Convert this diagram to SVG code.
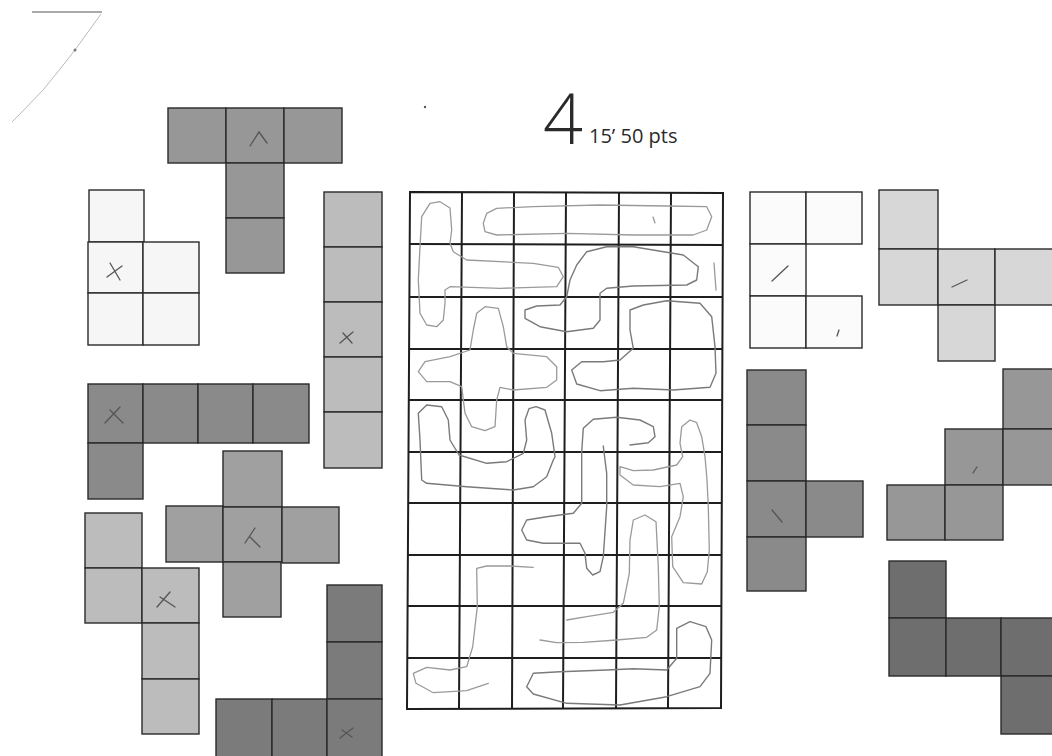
<svg xmlns="http://www.w3.org/2000/svg" width="1052" height="756" viewBox="0 0 1052 756">
<style>
.c{stroke:#2a2a2a;stroke-width:1.4}
.w{fill:#f6f6f6}.u{fill:#fbfbfb}.l1{fill:#d7d7d7}.l2{fill:#bcbcbc}.m1{fill:#a0a0a0}.m2{fill:#979797}.d1{fill:#8a8a8a}.d2{fill:#7b7b7b}.d3{fill:#6e6e6e}
.mk{stroke:#555;stroke-width:1.3;fill:none;stroke-linecap:round}
.g{stroke:#1e1e1e;stroke-width:2;fill:none}
.p{stroke:#9a9a9a;stroke-width:1.3;fill:none;stroke-linejoin:round;stroke-linecap:round}
.pd{stroke:#7a7a7a;stroke-width:1.4;fill:none;stroke-linejoin:round;stroke-linecap:round}
</style>
<rect width="1052" height="756" fill="#fff"/>
<!-- scan marks -->
<g id="scan">
<line x1="32" y1="12" x2="102" y2="12" stroke="#555" stroke-width="1.2"/>
<path d="M101 14 Q88 32 75 50 Q58 72 43 90 Q26 108 12 122" stroke="#bbb" stroke-width="1" fill="none"/>
<circle cx="75" cy="50" r="1.5" fill="#777"/>
<circle cx="425" cy="107" r="1.2" fill="#555"/>
</g>
<g id="title" font-family="'Open Sans','Liberation Sans',sans-serif" fill="#2a2a2a">
<text x="543" y="144" font-size="70" font-weight="300">4</text>
<text x="589" y="143" font-size="20">15’ 50 pts</text>
</g>
<g id="piece-T">
<rect class="c m2" x="168" y="108" width="58" height="55"/><rect class="c m2" x="226" y="108" width="58" height="55"/><rect class="c m2" x="284" y="108" width="58" height="55"/>
<rect class="c m2" x="226" y="163" width="58" height="55"/><rect class="c m2" x="226" y="218" width="58" height="55"/>
<path class="mk" d="M250 146 L259 132 L267 143"/>
</g>
<g id="piece-P">
<rect class="c w" x="89" y="190" width="55" height="52"/>
<rect class="c w" x="88" y="242" width="55" height="51"/><rect class="c w" x="143" y="242" width="56" height="51"/>
<rect class="c w" x="88" y="293" width="55" height="52"/><rect class="c w" x="143" y="293" width="56" height="52"/>
<path class="mk" d="M107 277 L122 266 M110 263 L120 280"/>
</g>
<g id="piece-I">
<rect class="c l2" x="324" y="192" width="58" height="55"/><rect class="c l2" x="324" y="247" width="58" height="55"/><rect class="c l2" x="324" y="302" width="58" height="55"/><rect class="c l2" x="324" y="357" width="58" height="55"/><rect class="c l2" x="324" y="412" width="58" height="56"/>
<path class="mk" d="M340 343 L353 332 M343 333 L352 343"/>
</g>
<g id="piece-L">
<rect class="c d1" x="88" y="384" width="55" height="59"/><rect class="c d1" x="143" y="384" width="55" height="59"/><rect class="c d1" x="198" y="384" width="55" height="59"/><rect class="c d1" x="253" y="384" width="56" height="59"/>
<rect class="c d1" x="88" y="443" width="55" height="56"/>
<path class="mk" d="M105 423 L120 407 M110 410 L123 423"/>
</g>
<g id="piece-X">
<rect class="c m1" x="223" y="451" width="59" height="56"/>
<rect class="c m1" x="166" y="506" width="57" height="56"/><rect class="c m1" x="223" y="507" width="59" height="55"/><rect class="c m1" x="282" y="507" width="57" height="56"/>
<rect class="c m1" x="223" y="562" width="58" height="55"/>
<path class="mk" d="M245 543 L255 528 M250 537 L260 547"/>
</g>
<g id="piece-N">
<rect class="c l2" x="85" y="513" width="57" height="55"/>
<rect class="c l2" x="85" y="568" width="57" height="55"/><rect class="c l2" x="142" y="568" width="57" height="55"/>
<rect class="c l2" x="142" y="623" width="57" height="56"/><rect class="c l2" x="142" y="679" width="57" height="55"/>
<path class="mk" d="M157 607 L170 592 M160 597 L175 607"/>
</g>
<g id="piece-V">
<rect class="c d2" x="327" y="585" width="55" height="57"/><rect class="c d2" x="327" y="642" width="55" height="57"/>
<rect class="c d2" x="216" y="699" width="56" height="59"/><rect class="c d2" x="272" y="699" width="55" height="59"/><rect class="c d2" x="327" y="699" width="55" height="59"/>
<path class="mk" d="M340 738 L353 728 M342 730 L352 737"/>
</g>
<g id="piece-U">
<rect class="c u" x="750" y="192" width="56" height="52"/><rect class="c u" x="806" y="192" width="56" height="52"/>
<rect class="c u" x="750" y="244" width="56" height="52"/>
<rect class="c u" x="750" y="296" width="56" height="52"/><rect class="c u" x="806" y="296" width="56" height="52"/>
<path class="mk" d="M772 281 L788 266 M837 336 L839 330"/>
</g>
<g id="piece-F">
<rect class="c l1" x="879" y="190" width="59" height="59"/>
<rect class="c l1" x="879" y="249" width="59" height="56"/><rect class="c l1" x="938" y="249" width="57" height="56"/><rect class="c l1" x="995" y="249" width="60" height="56"/>
<rect class="c l1" x="938" y="305" width="57" height="56"/>
<path class="mk" d="M952 287 L967 280" stroke="#888"/>
</g>
<g id="piece-Y">
<rect class="c d1" x="747" y="370" width="59" height="55"/><rect class="c d1" x="747" y="425" width="59" height="56"/><rect class="c d1" x="747" y="481" width="59" height="56"/><rect class="c d1" x="747" y="537" width="59" height="54"/>
<rect class="c d1" x="806" y="481" width="57" height="56"/>
<path class="mk" d="M772 510 L782 522" stroke="#666"/>
</g>
<g id="piece-W">
<rect class="c m2" x="1003" y="369" width="52" height="60"/>
<rect class="c m2" x="945" y="429" width="58" height="56"/><rect class="c m2" x="1003" y="429" width="52" height="56"/>
<rect class="c m2" x="887" y="485" width="58" height="55"/><rect class="c m2" x="945" y="485" width="58" height="55"/>
<path class="mk" d="M973 473 L977 467" stroke="#666"/>
</g>
<g id="piece-Z">
<rect class="c d3" x="889" y="561" width="57" height="57"/>
<rect class="c d3" x="889" y="618" width="57" height="58"/><rect class="c d3" x="946" y="618" width="55" height="58"/><rect class="c d3" x="1001" y="618" width="54" height="58"/>
<rect class="c d3" x="1001" y="676" width="54" height="58"/>
</g>
<g id="board">
<path class="g" d="M410 192 L723 193 L721 708 L407 709 Z"/>
<path class="g" d="M462 192 L459 709 M514 192 L512 709 M566 192 L563 709 M619 193 L616 708 M671 193 L668 708"/>
<path class="g" d="M410 244 L723 245 M410 297 L722 297 M409 349 L722 349 M409 400 L722 400 M409 452 L722 452 M408 503 L722 503 M408 555 L722 555 M408 606 L721 606 M407 658 L721 658"/>
</g>
<g id="connectors">
<path class="p" d="M450 243 L451.7 230 L450 208 L440 201.7 L430 203.3 L421.7 216.7 L420 246.7 L418.3 280 L420 313.3 L426.7 325 L436.7 326.7 L443.3 320 L445 303.3 L445 290 L450 286.7 L500 288.3 L556.7 286.7 L563.3 276.7 L558.3 267.3 L533.3 263.3 L466.7 260 L453.3 251.7 Z"/>
<path class="p" d="M483.3 223.3 L486.7 213.3 L496.7 208.3 L533.3 206.7 L600 205 L666.7 206 L706.7 206.7 L711.7 216.7 L706.7 230 L693.3 235 L633.3 235 L566.7 233.3 L496.7 235 L485 231.7 Z M653 217 L655 223"/>
<path class="pd" d="M576.7 265 L586.7 251.7 L606.7 246.7 L633.3 246.7 L683.3 255 L698.3 266.7 L696.7 280 L686.7 285 L633.3 286 L606.7 288.3 L600 293.3 L600 320 L593.3 328.3 L566.7 331.7 L540 326.7 L525 318.3 L525 310 L536.7 306 L560 305 L566.7 296.7 L570 280 Z"/>
<path class="p" d="M714 263 L716 290"/>
<path class="p" d="M476.7 313.3 L485 306.7 L498.3 308.3 L503.3 326.7 L506.7 346.7 L513.3 353.3 L546.7 356.7 L556.7 366.7 L556.7 380 L546.7 387.3 L513.3 390 L500 387.3 L496.7 400 L495 426.7 L485 430.7 L471.7 426.7 L465 413.3 L461.7 386.7 L450 381.7 L426.7 381.7 L418.3 371.7 L425 361.7 L450 356.7 L470 350 L473.3 330 Z"/>
<path class="pd" d="M630 310 L643.3 305 L666.7 300.7 L700 303.3 L711.7 316.7 L715 346.7 L716 373.3 L710 387.3 L673.3 390 L633.3 388.3 L600 390.7 L576.7 384 L571.7 370 L581.7 361.7 L603.3 361.7 L620 360 L633.3 348.3 L630 330 Z"/>
<path class="pd" d="M418.3 413.3 L426.7 405 L441.7 406.7 L448.3 420 L450 440 L459 455 L486.7 463.3 L506.7 461.7 L523.3 453.3 L526.7 440 L525 420 L529 408.7 L536 406.7 L545 410 L551.7 433.3 L555 456.7 L553.3 460 L546.7 476.7 L533.3 486.7 L513.3 490 L466.7 486.7 L426.7 483.3 L421.7 480 L420 440 Z"/>
<path class="pd" d="M603.3 446 L605 460 L606.7 473.3 L606.7 506.7 L603.3 556.7 L600 571.7 L592.7 575 L586.7 568.3 L585 553.3 L580 543.3 L543.3 543.3 L526.7 540 L521.7 530 L526.7 520 L546.7 516.7 L573.3 513.3 L581.7 503.3 L581.7 466.7 L581.7 451.7 L583.3 428.3 L593.3 419.3 L616.7 417.3 L640 420 L653.3 426.7 L655 436.7 L648.3 442.7 L630 445"/>
<path class="p" d="M620 466.7 L633.3 470.7 L653.3 470 L676.7 465 L682.7 456.7 L680 443.3 L681.7 426.7 L690 420 L696.7 422.7 L701.7 436.7 L705 456.7 L707 480 L708.3 506.7 L709.3 550 L707.3 571.7 L701.7 584 L683.3 582.7 L672.7 566.7 L671.7 536.7 L680 516.7 L683.3 496.7 L680 483.3 L660 486.7 L633.3 485 L620 475 Z"/>
<path class="p" d="M566.7 620 L586.7 616.7 L613.3 612.3 L623.3 603.3 L629.3 573.3 L630 540 L633.3 520 L645 515 L656 521.7 L658.3 566.7 L659.3 606.7 L656.7 630 L646.7 637.3 L616.7 640 L583.3 642.3 L556.7 642.7 L540 640"/>
<path class="p" d="M533.3 567.3 L510 566 L486.7 566 L476.7 568.3 L477.3 606.7 L472.7 646.7 L466.7 666.7 L450 670 L426.7 667.3 L413.3 673.3 L416 683.3 L433.3 692.7 L466.7 690.7 L488.3 683.3"/>
<path class="pd" d="M533.3 673.3 L560 671.7 L606.7 670 L633.3 668.7 L666.7 670 L676.7 658.3 L676.7 628.3 L690 621.7 L706 626.7 L711.7 640 L710 673.3 L700 686.7 L666.7 696.7 L620 705 L566.7 703.3 L533.3 694 L526.7 686.7 Z"/>
</g>
</svg>
